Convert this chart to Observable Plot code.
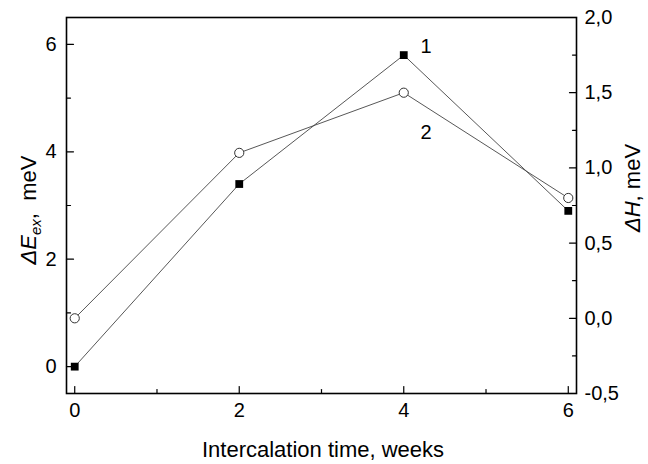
<!DOCTYPE html>
<html>
<head>
<meta charset="utf-8">
<script src="https://cdn.jsdelivr.net/npm/d3@7"></script>
<script src="https://cdn.jsdelivr.net/npm/@observablehq/plot@0.6"></script>
<style>
  html, body { margin: 0; padding: 0; background: #fff; }
</style>
</head>
<body>
<div id="chart"></div>
<script>
// ---- data ----
const weeks = [0, 2, 4, 6];
const deltaE = [0.0, 3.4, 5.8, 2.9];      // series 1, left axis (meV)
const deltaH = [0.0, 1.1, 1.5, 0.8];      // series 2, right axis (meV)
const xTicks = [0, 2, 4, 6];
const xMinor = [1, 3, 5];
const leftTicks = [0, 2, 4, 6];
const leftMinor = [1, 3, 5];
const rightTicks = [-0.5, 0.0, 0.5, 1.0, 1.5, 2.0];
const rightMinor = [-0.25, 0.25, 0.75, 1.25, 1.75];
const seriesLabels = ["1", "2"];
const seriesLabelX = [4.27, 4.27];
const seriesLabelY = [5.95, 4.35];

// right axis [-0.5, 2.0] is mapped onto left axis [-0.5, 6.5]
const leftDomain = [-0.5, 6.5];
const rightDomain = [-0.5, 2.0];
const k = (leftDomain[1] - leftDomain[0]) / (rightDomain[1] - rightDomain[0]);
const toLeft = v => leftDomain[0] + (v - rightDomain[0]) * k;
const toRight = v => rightDomain[0] + (v - leftDomain[0]) / k;
const commaFmt = v => d3.format(".1f")(v).replace("\u2212", "-").replace(".", ",");

const s1 = weeks.map((w, i) => ({x: w, y: deltaE[i]}));
const s2 = weeks.map((w, i) => ({x: w, y: toLeft(deltaH[i])}));
const labels = seriesLabels.map((t, i) => ({t, x: seriesLabelX[i], y: seriesLabelY[i]}));

const tickShape = {
  draw(context, l) { context.moveTo(0, 0); context.lineTo(0, -l); }
};
const ticks = (data, opts) => Plot.vector(data, {
  shape: tickShape, anchor: "start", stroke: "black", strokeWidth: 1.2, ...opts
});

const plot = Plot.plot({
  width: 648,
  height: 464,
  marginTop: 17,
  marginBottom: 71,
  marginLeft: 66,
  marginRight: 72,
  style: {fontFamily: "'Liberation Sans', Arial, sans-serif", fontSize: "20px", background: "white", color: "black"},
  x: {domain: [-0.1, 6.1]},
  y: {domain: leftDomain},
  marks: [
    Plot.line(s1, {x: "x", y: "y", stroke: "#444", strokeWidth: 0.9}),
    Plot.line(s2, {x: "x", y: "y", stroke: "#444", strokeWidth: 0.9}),
    Plot.dot(s1, {x: "x", y: "y", symbol: "square", r: 4.4, fill: "black", stroke: null}),
    Plot.dot(s2, {x: "x", y: "y", symbol: "circle", r: 4.6, fill: "white", stroke: "#333", strokeWidth: 1}),
    Plot.text(labels, {x: "x", y: "y", text: "t", fontSize: 20, fill: "black"}),
    // ticks (inward)
    ticks(xTicks, {x: d => d, frameAnchor: "bottom", length: 7, rotate: 0}),
    ticks(xMinor, {x: d => d, frameAnchor: "bottom", length: 4, rotate: 0}),
    ticks(leftTicks, {y: d => d, frameAnchor: "left", length: 7, rotate: 90}),
    ticks(leftMinor, {y: d => d, frameAnchor: "left", length: 4, rotate: 90}),
    ticks(rightTicks.map(toLeft), {y: d => d, frameAnchor: "right", length: 7, rotate: -90}),
    ticks(rightMinor.map(toLeft), {y: d => d, frameAnchor: "right", length: 4, rotate: -90}),
    // axes (labels only)
    Plot.axisX(xTicks, {anchor: "bottom", tickSize: 0, tickPadding: 9, label: null, fontSize: 20, tickFormat: d => String(d)}),
    Plot.axisY(leftTicks, {anchor: "left", tickSize: 0, tickPadding: 10, label: null, fontSize: 20, tickFormat: d => String(d)}),
    Plot.axisY(rightTicks.map(toLeft), {anchor: "right", tickSize: 0, tickPadding: 8, label: null, fontSize: 20, tickFormat: d => commaFmt(toRight(d))}),
    Plot.frame({stroke: "black", strokeWidth: 1.6})
  ]
});

const svg = d3.select(plot);
// x title
svg.append("text")
  .attr("x", 323).attr("y", 457)
  .attr("text-anchor", "middle")
  .attr("font-size", 22)
  .attr("fill", "black")
  .text("Intercalation time, weeks");
// left title: ΔE_ex,  meV
const lt = svg.append("text")
  .attr("transform", "translate(36,210) rotate(-90)")
  .attr("text-anchor", "middle")
  .attr("font-size", 22)
  .attr("fill", "black");
lt.append("tspan").attr("font-style", "italic").text("ΔE");
lt.append("tspan").attr("font-style", "italic").attr("font-size", 15).attr("dy", 5).text("ex");
lt.append("tspan").attr("dy", -5).text(",\u00A0\u00A0meV");
// right title: ΔH, meV
const rt = svg.append("text")
  .attr("transform", "translate(640,188) rotate(-90)")
  .attr("text-anchor", "middle")
  .attr("font-size", 22)
  .attr("fill", "black");
rt.append("tspan").attr("font-style", "italic").text("ΔH");
rt.append("tspan").text(", meV");

document.getElementById("chart").appendChild(plot);
</script>
</body>
</html>
